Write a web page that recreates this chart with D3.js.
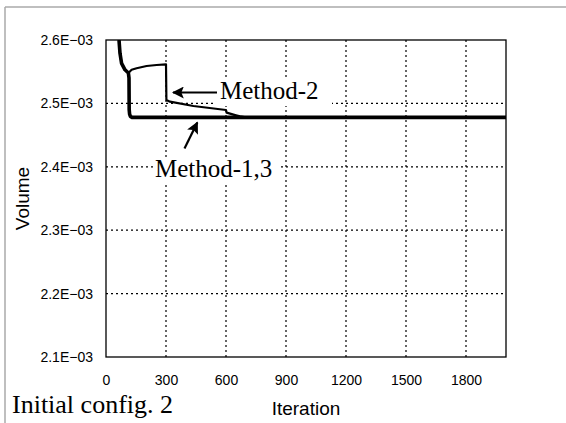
<!DOCTYPE html>
<html><head><meta charset="utf-8">
<script src="https://cdn.jsdelivr.net/npm/d3@7"></script>
<style>body{margin:0;background:#fff}svg{display:block}</style>
</head><body><svg id="c" width="566" height="423"></svg>
<script>
// ---- data ----
const xTicks = [0, 300, 600, 900, 1200, 1500, 1800];
const yTicks = [2.1e-3, 2.2e-3, 2.3e-3, 2.4e-3, 2.5e-3, 2.6e-3];
const yTickLabels = ["2.1E\u221203", "2.2E\u221203", "2.3E\u221203", "2.4E\u221203", "2.5E\u221203", "2.6E\u221203"];
const m13Iter = [65, 70, 78, 95, 112, 115, 116, 118, 122, 130, 2000];
const m13Vol  = [2.600e-3, 2.579e-3, 2.563e-3, 2.553e-3, 2.548e-3, 2.540e-3, 2.490e-3, 2.483e-3, 2.4795e-3, 2.478e-3, 2.478e-3];
const m2Iter = [65, 70, 78, 95, 112, 128, 153, 203, 253, 300, 302, 320, 437, 600, 603, 650, 670, 700, 2000];
const m2Vol  = [2.600e-3, 2.579e-3, 2.563e-3, 2.553e-3, 2.548e-3, 2.553e-3, 2.5555e-3, 2.559e-3, 2.5606e-3, 2.5617e-3, 2.5054e-3, 2.5027e-3, 2.4959e-3, 2.4896e-3, 2.4854e-3, 2.4812e-3, 2.4795e-3, 2.478e-3, 2.478e-3];

// ---- layout ----
const svg = d3.select("#c");
const L = 106, R = 506, T = 40, B = 357;
const x = d3.scaleLinear().domain([0, 2000]).range([L, R]);
const y = d3.scaleLinear().domain([2.1e-3, 2.6e-3]).range([B, T]);

// outer frame
svg.append("line").attr("x1", 5).attr("x2", 566).attr("y1", 7).attr("y2", 7).attr("stroke", "#aaa").attr("stroke-width", 1.5);
svg.append("line").attr("x1", 5).attr("x2", 5).attr("y1", 7).attr("y2", 423).attr("stroke", "#aaa").attr("stroke-width", 1.5);

// grid
svg.append("g").selectAll("line").data(xTicks.slice(1)).join("line")
  .attr("x1", d => x(d)).attr("x2", d => x(d)).attr("y1", T).attr("y2", B)
  .attr("stroke", "#000").attr("stroke-width", 1.2).attr("stroke-dasharray", "2,3");
svg.append("g").selectAll("line").data(yTicks.slice(1, -1)).join("line")
  .attr("x1", L).attr("x2", R).attr("y1", d => y(d)).attr("y2", d => y(d))
  .attr("stroke", "#000").attr("stroke-width", 1.2).attr("stroke-dasharray", "2,3");

// axes labels via d3 axes (no tick marks)
const xAxis = svg.append("g").attr("transform", `translate(0,${B + 14})`)
  .call(d3.axisBottom(x).tickValues(xTicks).tickSize(0).tickPadding(4).tickFormat(d3.format("d")));
xAxis.select(".domain").remove();
xAxis.selectAll("text").attr("font-family", "Liberation Sans, Arial, sans-serif").attr("font-size", 14).attr("fill", "#000");
const yAxis = svg.append("g").attr("transform", `translate(${L - 13},0)`)
  .call(d3.axisLeft(y).tickValues(yTicks).tickSize(0).tickPadding(0).tickFormat((d, i) => yTickLabels[i]));
yAxis.select(".domain").remove();
yAxis.selectAll("text").attr("font-family", "Liberation Sans, Arial, sans-serif").attr("font-size", 14).attr("fill", "#000");

// clip
svg.append("clipPath").attr("id", "clip").append("rect").attr("x", L).attr("y", T).attr("width", R - L).attr("height", B - T);

const line = d3.line().x(d => x(d[0])).y(d => y(d[1]));
const g = svg.append("g").attr("clip-path", "url(#clip)");
g.append("path").datum(m2Iter.map((d, i) => [d, m2Vol[i]])).attr("d", line)
  .attr("fill", "none").attr("stroke", "#000").attr("stroke-width", 2.2).attr("stroke-linejoin", "round");
g.append("path").datum(m13Iter.map((d, i) => [d, m13Vol[i]])).attr("d", line)
  .attr("fill", "none").attr("stroke", "#000").attr("stroke-width", 3.6).attr("stroke-linejoin", "round");

// plot border
svg.append("rect").attr("x", L).attr("y", T).attr("width", R - L).attr("height", B - T)
  .attr("fill", "none").attr("stroke", "#000").attr("stroke-width", 1.3);

// annotations
svg.append("rect").attr("x", 213).attr("y", 78).attr("width", 119).attr("height", 28).attr("fill", "#fff");
svg.append("rect").attr("x", 153).attr("y", 158).attr("width", 125).attr("height", 27).attr("fill", "#fff");

const serif = "Liberation Serif, Times New Roman, serif";
svg.append("text").attr("x", 220).attr("y", 99).attr("font-family", serif).attr("font-size", 25).text("Method-2");
svg.append("text").attr("x", 155).attr("y", 177).attr("font-family", serif).attr("font-size", 25).text("Method-1,3");
svg.append("text").attr("x", 12).attr("y", 413).attr("font-family", serif).attr("font-size", 26).text("Initial config. 2");

svg.append("defs").append("marker").attr("id", "ah").attr("viewBox", "0 0 10 10").attr("refX", 9).attr("refY", 5)
  .attr("markerWidth", 12).attr("markerHeight", 12).attr("markerUnits", "userSpaceOnUse").attr("orient", "auto")
  .append("path").attr("d", "M0,0 L10,5 L0,10 L2,5 Z").attr("fill", "#000");
svg.append("line").attr("x1", 217).attr("y1", 92.5).attr("x2", 173).attr("y2", 92.5)
  .attr("stroke", "#000").attr("stroke-width", 2.2).attr("marker-end", "url(#ah)");
svg.append("line").attr("x1", 184.5).attr("y1", 148.5).attr("x2", 197.3).attr("y2", 122.5)
  .attr("stroke", "#000").attr("stroke-width", 2.2).attr("marker-end", "url(#ah)");

// axis titles
const sans = "Liberation Sans, Arial, sans-serif";
svg.append("text").attr("x", (L + R) / 2).attr("y", 415).attr("text-anchor", "middle")
  .attr("font-family", sans).attr("font-size", 19).text("Iteration");
svg.append("text").attr("transform", `translate(29,${(T + B) / 2}) rotate(-90)`).attr("text-anchor", "middle")
  .attr("font-family", sans).attr("font-size", 19).text("Volume");
</script></body></html>
